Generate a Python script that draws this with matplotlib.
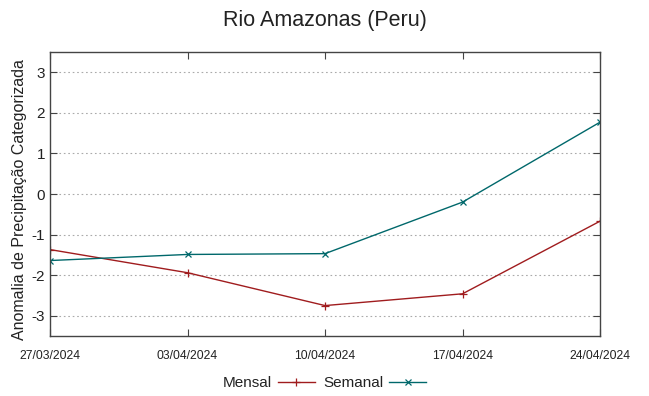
import matplotlib
matplotlib.use("Agg")
import matplotlib.pyplot as plt
import matplotlib.dates as mdates
import pandas as pd

# donnees
datas = pd.to_datetime(["2024-03-27", "2024-04-03", "2024-04-10", "2024-04-17", "2024-04-24"])
mensal = [-1.37, -1.94, -2.75, -2.46, -0.67]
semanal = [-1.64, -1.49, -1.47, -0.20, 1.77]
yticks = [-3, -2, -1, 0, 1, 2, 3]

plt.rcParams['font.family'] = ['Liberation Sans', 'DejaVu Sans']
plt.rcParams['axes.unicode_minus'] = False
plt.rcParams['text.color'] = "#222222"

fig = plt.figure(figsize=(6.49, 3.96), dpi=100)
ax = fig.add_axes([50/649, 60/396, 550/649, 284/396])

ax.plot(datas, mensal, color="#a01c1e", lw=1, marker="+", ms=6, mew=0.9, label="Mensal")
ax.plot(datas, semanal, color="#00686b", lw=1, marker="x", ms=4.5, mew=0.9, label="Semanal")

ax.set_xlim(datas[0], datas[-1])
ax.set_ylim(-3.5, 3.5)
ax.set_yticks(yticks)
ax.set_xticks(datas)
ax.xaxis.set_major_formatter(mdates.DateFormatter("%d/%m/%Y"))
ax.tick_params(axis="x", labelsize=8.7, pad=10, direction="in", top=True, length=5,
               color="#444444", labelcolor="#222222")
ax.tick_params(axis="y", labelsize=11, direction="in", right=True, length=5,
               color="#444444", labelcolor="#222222")
ax.grid(True, axis="y", linestyle=(0, (1.5, 2.5)), color="#aaaaaa", lw=0.8)
for s in ax.spines.values():
    s.set_color("#444444")
    s.set_linewidth(1)

ax.set_ylabel("Anomalia de Precipitação Categorizada", fontsize=11.5, color="#222222")
ax.yaxis.set_label_coords(-0.042, 0.48)
fig.suptitle("Rio Amazonas (Peru)", fontsize=15.5, y=0.975)

fig.legend(loc="lower center", bbox_to_anchor=(0.5, -0.02), ncol=2, frameon=False,
           markerfirst=False, fontsize=11, handlelength=2.4, columnspacing=0.55, handletextpad=0.4)

plt.savefig("out.png", dpi=100)
